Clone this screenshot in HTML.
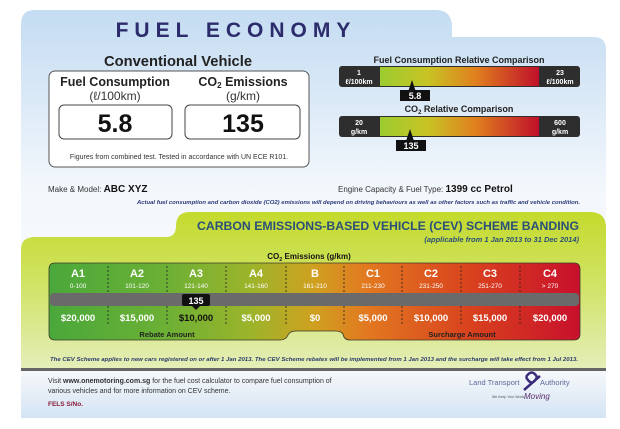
<!DOCTYPE html>
<html><head><meta charset="utf-8"><style>
body{margin:0;background:#fff}
svg{display:block}
text{font-family:"Liberation Sans",sans-serif}
</style></head><body>
<svg width="620" height="429" viewBox="0 0 620 429" xmlns="http://www.w3.org/2000/svg">
<defs>
<linearGradient id="card" x1="0" y1="0" x2="0" y2="1">
<stop offset="0" stop-color="#c4dcf2"/><stop offset="0.45" stop-color="#f4f8fc"/><stop offset="0.85" stop-color="#f8fafc"/><stop offset="1" stop-color="#d6e6f6"/></linearGradient>
<linearGradient id="grn" x1="0" y1="0" x2="0" y2="1">
<stop offset="0" stop-color="#c4da2c"/><stop offset="0.5" stop-color="#d2e46a"/><stop offset="1" stop-color="#e4eeb8"/></linearGradient>
<linearGradient id="bar" x1="0" y1="0" x2="1" y2="0">
<stop offset="0" stop-color="#9ccc30"/><stop offset="0.3" stop-color="#c8c424"/><stop offset="0.6" stop-color="#e0801e"/><stop offset="1" stop-color="#c0102a"/></linearGradient>
<linearGradient id="band" x1="0" y1="0" x2="1" y2="0">
<stop offset="0" stop-color="#4aa83a"/><stop offset="0.22" stop-color="#6cb035"/><stop offset="0.38" stop-color="#9cb42a"/><stop offset="0.5" stop-color="#d0a020"/><stop offset="0.6" stop-color="#e27820"/><stop offset="0.8" stop-color="#d8401e"/><stop offset="1" stop-color="#c8102c"/></linearGradient>
<linearGradient id="foot" x1="0" y1="0" x2="0" y2="1">
<stop offset="0" stop-color="#f6f8fa"/><stop offset="1" stop-color="#d4e4f4"/></linearGradient>
</defs>
<path d="M21 24 Q21 10 35 10 L436 10 Q450 10 452 24 L452 37 L594 37 Q606 37 606 50 L606 418 L21 418 Z" fill="url(#card)"/>
<rect x="21" y="371" width="585" height="47" fill="url(#foot)"/>
<text x="236" y="37" text-anchor="middle" font-size="21" font-weight="bold" fill="#2c2c6c" letter-spacing="6">FUEL ECONOMY</text>
<text x="178" y="66" text-anchor="middle" font-size="15" font-weight="bold" fill="#222" textLength="148" lengthAdjust="spacingAndGlyphs">Conventional Vehicle</text>
<rect x="49" y="71" width="260" height="96" rx="6" fill="#fff" stroke="#555" stroke-width="1"/>
<text x="115" y="86" text-anchor="middle" font-size="12.5" font-weight="bold" fill="#222">Fuel Consumption</text>
<text x="115" y="100" text-anchor="middle" font-size="12" fill="#333">(ℓ/100km)</text>
<text x="243" y="86" text-anchor="middle" font-size="12.5" font-weight="bold" fill="#222">CO<tspan font-size="8" dy="2">2</tspan><tspan dy="-2"> Emissions</tspan></text>
<text x="243" y="100" text-anchor="middle" font-size="12" fill="#333">(g/km)</text>
<rect x="59" y="105" width="113" height="34" rx="5" fill="#fff" stroke="#444"/>
<rect x="185" y="105" width="115" height="34" rx="5" fill="#fff" stroke="#444"/>
<text x="115" y="132" text-anchor="middle" font-size="25" font-weight="bold" fill="#111">5.8</text>
<text x="243" y="132" text-anchor="middle" font-size="25" font-weight="bold" fill="#111">135</text>
<text x="179" y="159" text-anchor="middle" font-size="7" fill="#333">Figures from combined test. Tested in accordance with UN ECE R101.</text>
<text x="459" y="63" text-anchor="middle" font-size="9" font-weight="bold" fill="#222">Fuel Consumption Relative Comparison</text>
<rect x="339" y="66" width="241" height="21" rx="3" fill="#2e2e2e"/>
<rect x="380" y="67" width="159" height="19" fill="url(#bar)"/>
<text x="359" y="75" text-anchor="middle" font-size="7" font-weight="bold" fill="#fff">1</text>
<text x="359" y="84" text-anchor="middle" font-size="7" font-weight="bold" fill="#fff">ℓ/100km</text>
<text x="560" y="75" text-anchor="middle" font-size="7" font-weight="bold" fill="#fff">23</text>
<text x="560" y="84" text-anchor="middle" font-size="7" font-weight="bold" fill="#fff">ℓ/100km</text>
<path d="M412 80 L416 92 L408 92 Z" fill="#111"/>
<rect x="400" y="90" width="30" height="11" fill="#111"/>
<text x="415" y="99" text-anchor="middle" font-size="9" font-weight="bold" fill="#fff">5.8</text>
<text x="459" y="112" text-anchor="middle" font-size="9" font-weight="bold" fill="#222">CO<tspan font-size="6" dy="2">2</tspan><tspan dy="-2"> Relative Comparison</tspan></text>
<rect x="339" y="116" width="241" height="21" rx="3" fill="#2e2e2e"/>
<rect x="380" y="117" width="159" height="19" fill="url(#bar)"/>
<text x="359" y="125" text-anchor="middle" font-size="7" font-weight="bold" fill="#fff">20</text>
<text x="359" y="134" text-anchor="middle" font-size="7" font-weight="bold" fill="#fff">g/km</text>
<text x="560" y="125" text-anchor="middle" font-size="7" font-weight="bold" fill="#fff">600</text>
<text x="560" y="134" text-anchor="middle" font-size="7" font-weight="bold" fill="#fff">g/km</text>
<path d="M410 129 L414 141 L406 141 Z" fill="#111"/>
<rect x="396" y="140" width="30" height="11" fill="#111"/>
<text x="411" y="149" text-anchor="middle" font-size="9" font-weight="bold" fill="#fff">135</text>
<text x="48" y="192" font-size="8" fill="#333">Make &amp; Model: <tspan font-size="10" font-weight="bold" fill="#111">ABC  XYZ</tspan></text>
<text x="338" y="192" font-size="8" fill="#333">Engine Capacity &amp; Fuel Type: <tspan font-size="10" font-weight="bold" fill="#111">1399 cc   Petrol</tspan></text>
<text x="580" y="204" text-anchor="end" font-size="5.2" font-style="italic" font-weight="bold" fill="#2a3a7a" textLength="443" lengthAdjust="spacingAndGlyphs">Actual fuel consumption and carbon dioxide (CO2) emissions will depend on driving behaviours as well as other factors such as traffic and vehicle condition.</text>
<path d="M176 226 Q176 212 190 212 L590 212 Q606 212 606 228 L606 368 L21 368 L21 250 Q21 237 35 237 L166 237 Q176 237 176 226 Z" fill="url(#grn)"/>
<text x="579" y="230" text-anchor="end" font-size="11.5" font-weight="bold" fill="#2a5078" textLength="382" lengthAdjust="spacingAndGlyphs">CARBON EMISSIONS-BASED VEHICLE (CEV) SCHEME BANDING</text>
<text x="579" y="242" text-anchor="end" font-size="7.5" font-weight="bold" font-style="italic" fill="#2a5078">(applicable from 1 Jan 2013 to 31 Dec 2014)</text>
<text x="309" y="259" text-anchor="middle" font-size="8" font-weight="bold" fill="#111">CO<tspan font-size="5.5" dy="2">2</tspan><tspan dy="-2"> Emissions (g/km)</tspan></text>
<path d="M55 263 L574 263 Q580 263 580 269 L580 334 Q580 340 574 340 L350 340 Q344 340 343 334 Q341 331 335 331 L296 331 Q290 331 288 335 Q286 340 280 340 L55 340 Q49 340 49 334 L49 269 Q49 263 55 263 Z" fill="url(#band)" stroke="#3a3a2a" stroke-width="0.8"/>
<rect x="50" y="293" width="529" height="13" rx="4" fill="#6a6a6a"/>
<g stroke="#222" stroke-width="0.8" stroke-dasharray="2,2">
<line x1="108" y1="266" x2="108" y2="293"/><line x1="167" y1="266" x2="167" y2="293"/><line x1="226" y1="266" x2="226" y2="293"/><line x1="286" y1="266" x2="286" y2="293"/><line x1="344" y1="266" x2="344" y2="293"/><line x1="402" y1="266" x2="402" y2="293"/><line x1="461" y1="266" x2="461" y2="293"/><line x1="520" y1="266" x2="520" y2="293"/>
<line x1="108" y1="306" x2="108" y2="326"/><line x1="167" y1="306" x2="167" y2="326"/><line x1="226" y1="306" x2="226" y2="326"/><line x1="286" y1="306" x2="286" y2="326"/><line x1="344" y1="306" x2="344" y2="326"/><line x1="402" y1="306" x2="402" y2="326"/><line x1="461" y1="306" x2="461" y2="326"/><line x1="520" y1="306" x2="520" y2="326"/>
</g>
<g fill="#fff" text-anchor="middle" font-weight="bold">
<text x="78" y="277" font-size="11">A1</text><text x="137" y="277" font-size="11">A2</text><text x="196" y="277" font-size="11">A3</text><text x="256" y="277" font-size="11">A4</text><text x="315" y="277" font-size="11">B</text><text x="373" y="277" font-size="11">C1</text><text x="431" y="277" font-size="11">C2</text><text x="490" y="277" font-size="11">C3</text><text x="550" y="277" font-size="11">C4</text>
</g>
<g fill="#fff" text-anchor="middle" font-size="6.5">
<text x="78" y="288">0-100</text><text x="137" y="288">101-120</text><text x="196" y="288">121-140</text><text x="256" y="288">141-160</text><text x="315" y="288">161-210</text><text x="373" y="288">211-230</text><text x="431" y="288">231-250</text><text x="490" y="288">251-270</text><text x="550" y="288">&gt; 270</text>
</g>
<g fill="#fff" text-anchor="middle" font-size="9.5" font-weight="bold">
<text x="78" y="321">$20,000</text><text x="137" y="321">$15,000</text><text x="196" y="321" fill="#111">$10,000</text><text x="256" y="321">$5,000</text><text x="315" y="321">$0</text><text x="373" y="321">$5,000</text><text x="431" y="321">$10,000</text><text x="490" y="321">$15,000</text><text x="550" y="321">$20,000</text>
</g>
<rect x="182" y="294" width="28" height="12" rx="2" fill="#111"/>
<path d="M192 306 L196 310 L200 306 Z" fill="#111"/>
<text x="196" y="304" text-anchor="middle" font-size="9" font-weight="bold" fill="#fff">135</text>
<text x="167" y="337" text-anchor="middle" font-size="7.5" font-weight="bold" fill="#222">Rebate Amount</text>
<text x="462" y="337" text-anchor="middle" font-size="7.5" font-weight="bold" fill="#222">Surcharge Amount</text>
<text x="314" y="361" text-anchor="middle" font-size="5" font-style="italic" font-weight="bold" fill="#2a3a6a" textLength="528" lengthAdjust="spacingAndGlyphs">The CEV Scheme applies to new cars registered on or after 1 Jan 2013. The CEV Scheme rebates will be implemented from 1 Jan 2013 and the surcharge will take effect from 1 Jul 2013.</text>
<rect x="21" y="368" width="585" height="3" fill="#666"/>
<text x="48" y="383" font-size="7" fill="#333">Visit <tspan font-weight="bold">www.onemotoring.com.sg</tspan> for the fuel cost calculator to compare fuel consumption of</text>
<text x="48" y="393" font-size="7" fill="#333">various vehicles and for more information on CEV scheme.</text>
<text x="48" y="406" font-size="6.5" font-weight="bold" fill="#8a1a3a">FELS S/No.</text>
<text x="469" y="385" font-size="7.5" fill="#5a6a9a" font-family="Liberation Serif,serif">Land Transport</text>
<text x="540" y="385" font-size="7.5" fill="#5a6a9a" font-family="Liberation Serif,serif">Authority</text>
<path d="M526 377 Q532 368 537 377 Q532 388 526 377 M524 390 L540 376" stroke="#3a2a7a" stroke-width="2.5" fill="none"/>
<text x="492" y="398" font-size="3.5" fill="#555">We Keep Your World</text>
<text x="524" y="399" font-size="8" font-style="italic" fill="#5a2a6a" font-family="Liberation Serif,serif">Moving</text>
</svg>
</body></html>
